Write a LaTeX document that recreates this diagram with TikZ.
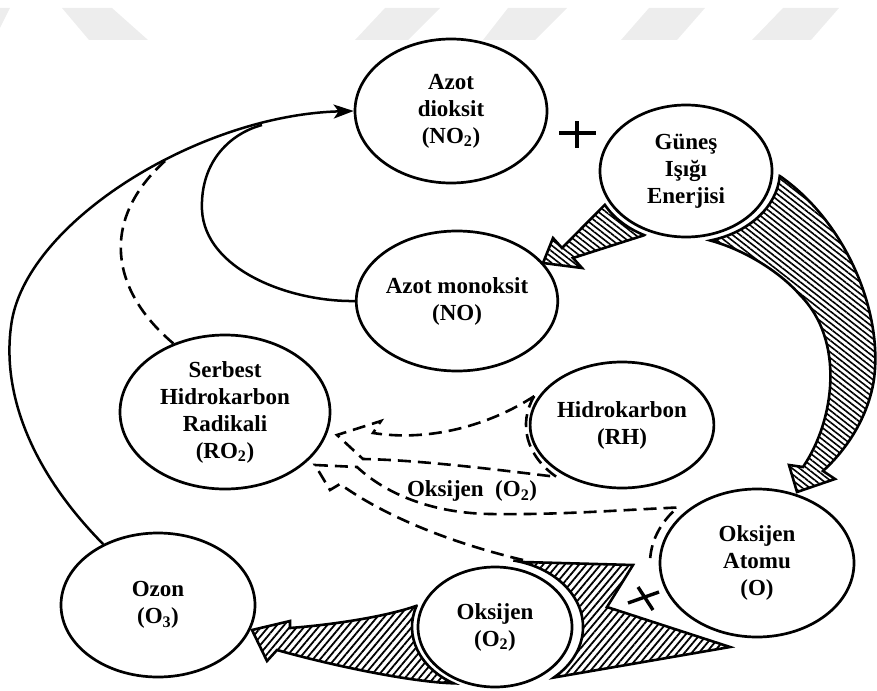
\documentclass[tikz,border=0pt]{standalone}
\usepackage{fontspec}
\setmainfont{Liberation Serif}
\usetikzlibrary{shapes.geometric,arrows.meta,patterns.meta,backgrounds}
\begin{document}
\begin{tikzpicture}[x=1pt,y=-1pt,
  ell/.style={ellipse, draw, line width=2.7pt, fill=white, inner sep=0pt, align=center,
    font=\fontsize{23}{27}\selectfont\bfseries},
  lbl/.style={inner sep=0pt, font=\fontsize{23}{27}\selectfont\bfseries},
  conn/.style={line width=2.5pt},
  dsh/.style={line width=2.6pt, dash pattern=on 13pt off 7pt, line join=miter},
  hatchA/.style={draw, line width=2.6pt, line join=miter,
    pattern={Lines[angle=-38,distance=4.6pt,line width=1.6pt]}},
  hatchB/.style={draw, line width=2.6pt, line join=miter,
    pattern={Lines[angle=50,distance=5.5pt,line width=1.8pt]}},
  wm/.style={fill=black!7, draw=none},
  signline/.style={line width=3.4pt}]
\useasboundingbox (0,0) rectangle (877,690);

% nodes
\node[ell, minimum width=192pt, minimum height=144pt] (no2) at (451,111) {Azot\\dioksit\\(NO\textsubscript{2})};
\node[ell, minimum width=172pt, minimum height=132pt] (gunes) at (686,171) {Güneş\\Işığı\\Enerjisi};
\node[ell, minimum width=196pt, minimum height=140pt] (no) at (457,301) {Azot monoksit\\(NO)};
\node[ell, minimum width=210pt, minimum height=154pt] (ro2) at (225,412) {Serbest\\Hidrokarbon\\Radikali\\(RO\textsubscript{2})};
\node[ell, minimum width=176pt, minimum height=126pt] (rh) at (622,425) {Hidrokarbon\\(RH)};
\node[ell, minimum width=194pt, minimum height=148pt] (oatom) at (757,563) {Oksijen\\Atomu\\(O)};
\node[ell, minimum width=154pt, minimum height=120pt] (o2) at (495,627) {Oksijen\\(O\textsubscript{2})};
\node[ell, minimum width=194pt, minimum height=144pt] (ozon) at (158,605) {Ozon\\(O\textsubscript{3})};
\node[lbl] (oxlabel) at (472,491) {Oksijen\hspace{0.5em}(O\textsubscript{2})};

\begin{pgfonlayer}{background}
% watermark band
\path[wm] (0,8) -- (10,8) -- (0,28) -- cycle;
\path[wm] (62,8) -- (112,8) -- (148,40) -- (89,40) -- cycle;
\path[wm] (385,8) -- (440,8) -- (408,40) -- (355,40) -- cycle;
\path[wm] (508,8) -- (567,8) -- (535,40) -- (483,40) -- cycle;
\path[wm] (649,8) -- (705,8) -- (677,40) -- (621,40) -- cycle;
\path[wm] (783,8) -- (839,8) -- (811,40) -- (752,40) -- cycle;
% hatched arrows
\path[hatchA] (779.8,176) .. controls (850,225) and (885,320) .. (873,385)
  .. controls (866,420) and (846,450) .. (823,471) -- (835,479) -- (797,492) -- (789,465) -- (803,467)
  .. controls (835,420) and (845,340) .. (800,295) .. controls (780,272) and (745,250) .. (710.3,240.5)
  arc[start angle=-75, end angle=-4, x radius=94pt, y radius=72pt] -- cycle;
\path[hatchA] (644.2,235.2) -- (573,258) -- (582,268) -- (543,263) -- (553,238) -- (562,248) -- (604.8,204.8)
  arc[start angle=-152, end angle=-117, x radius=92pt, y radius=72pt] -- cycle;
\path[hatchB] (523,562) -- (633,565) -- (607,607) -- (730,647) -- (553.9,677.5)
  arc[start angle=-48, end angle=78, x radius=88pt, y radius=68pt] -- cycle;
\path[hatchB] (416.5,605.8) .. controls (385,617) and (330,625) .. (290,628) -- (290,621) -- (252,630)
  -- (267,661) -- (277,650) .. controls (330,665) and (410,682) .. (453.5,683.3)
  arc[start angle=-120, end angle=-199, x radius=83pt, y radius=65pt] -- cycle;
\end{pgfonlayer}

% solid connectors
\draw[conn, -{Stealth[length=20pt,width=14pt,inset=5pt]}] (ozon.132)
  .. controls (30,470) and (0,390) .. (12,320)
  .. controls (30,220) and (200,115) .. (no2.west);
\draw[conn] (no.west) .. controls (290,302) and (205,270) .. (202,210)
  .. controls (200,160) and (232,133) .. (262,125);
% dashed connectors
\draw[dsh] (ro2.127) .. controls (110,290) and (100,220) .. (165,161);
\draw[dsh] (534.3,396.1) .. controls (490,425) and (430,442) .. (373,433) -- (381,421) -- (337,435) -- (363,459)
  .. controls (420,460) and (500,470) .. (556.5,476.9)
  arc[start angle=-133, end angle=-204, x radius=96pt, y radius=71pt];
\draw[dsh] (523,560) .. controls (460,545) and (390,520) .. (340,484) -- (330,490) -- (315,465) -- (357,467)
  .. controls (385,493) and (430,513) .. (490,514) .. controls (560,515) and (620,510) .. (677.5,507.5)
  arc[start angle=-222, end angle=-180, x radius=107pt, y radius=83pt];

% signs
\draw[signline] (559,133) -- (596,133);
\draw[signline] (577,121) -- (577,148);
\draw[signline] (628,603) -- (659,592);
\draw[signline] (638,587) -- (653,610);
\end{tikzpicture}
\end{document}
